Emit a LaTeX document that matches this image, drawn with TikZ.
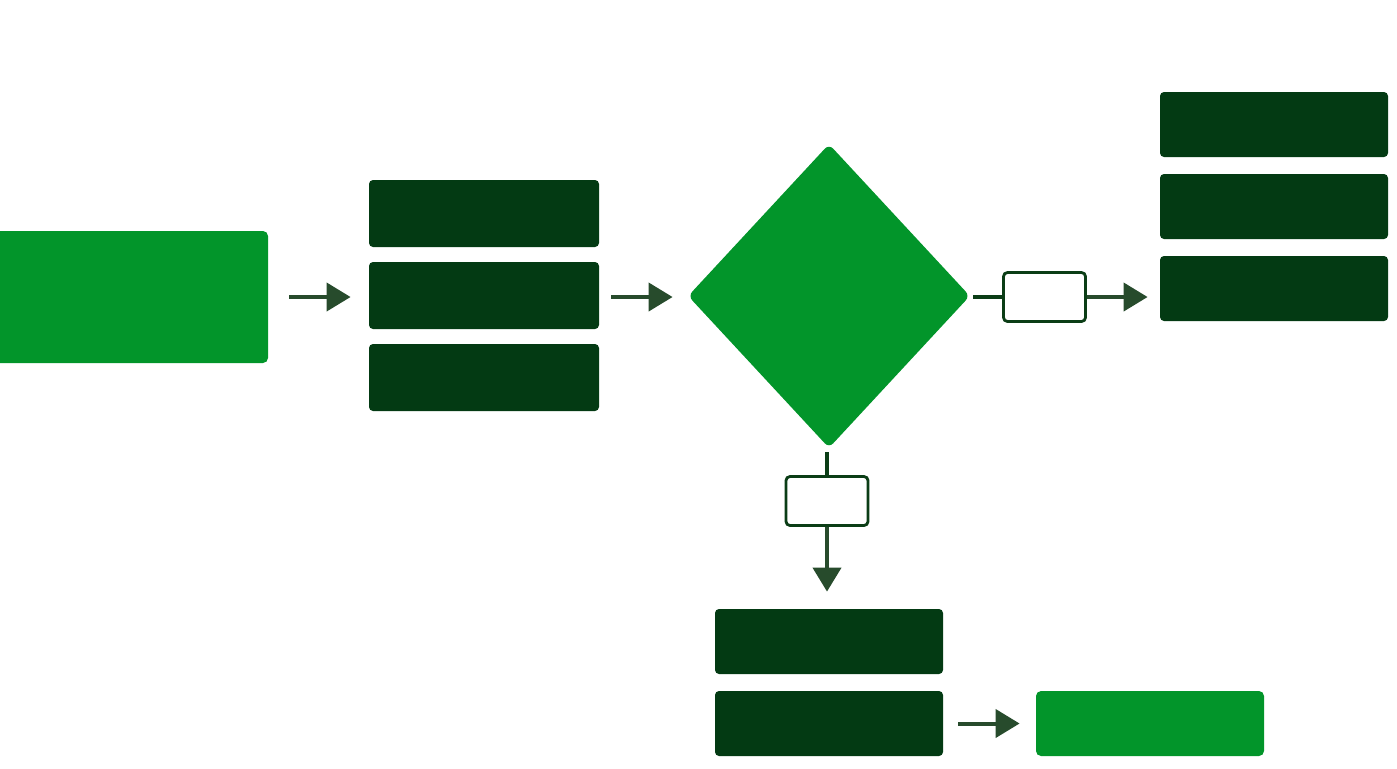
\documentclass[tikz,border=0pt]{standalone}
\usetikzlibrary{shapes.geometric,arrows.meta}
\definecolor{bright}{HTML}{02952A}
\definecolor{darkg}{HTML}{033A13}
\definecolor{arr}{HTML}{274B2C}
\definecolor{lbl}{HTML}{0B3D16}
\tikzset{
  bar/.style={rectangle, fill=darkg, rounded corners=2pt, minimum width=115pt, minimum height=33.5pt, inner sep=0pt},
  brightbox/.style={rectangle, fill=bright, rounded corners=2.5pt, inner sep=0pt},
  lblbox/.style={rectangle, draw=lbl, line width=1.4pt, fill=white, rounded corners=2pt, minimum width=41pt, minimum height=24.5pt, inner sep=0pt},
  conn/.style={draw=arr, line width=2pt, -{Triangle[length=12pt,width=14pt]}},
  plain/.style={draw=lbl, line width=1.6pt},
}
\begin{document}
\begin{tikzpicture}[x=0.5pt,y=-0.5pt]
\useasboundingbox (0,0) rectangle (1397,768);
% left bright box
\node[brightbox, minimum width=140pt, minimum height=66pt] (start) at (128,297) {};
% stack 1
\node[bar] (s1a) at (484,213.5) {};
\node[bar] (s1b) at (484,295.5) {};
\node[bar] (s1c) at (484,377.5) {};
% diamond
\node[diamond, fill=bright, rounded corners=3pt, minimum width=141pt, minimum height=152pt, inner sep=0pt] (dec) at (829,296) {};
% right stack
\node[bar, minimum width=114pt, minimum height=32.5pt] (r1) at (1274,124.5) {};
\node[bar, minimum width=114pt, minimum height=32.5pt] (r2) at (1274,206.5) {};
\node[bar, minimum width=114pt, minimum height=32.5pt] (r3) at (1274,288.5) {};
% bottom stack
\node[bar, minimum width=114pt, minimum height=32.5pt] (b1) at (829,641.5) {};
\node[bar, minimum width=114pt, minimum height=32.5pt] (b2) at (829,723.5) {};
% final bright box
\node[brightbox, minimum width=114pt, minimum height=32.5pt] (fin) at (1150,723.5) {};
% label boxes
\node[lblbox] (lr) at (1044.5,297) {};
\node[lblbox] (ld) at (827,501) {};
% connectors
\draw[conn, shorten <=10.5pt, shorten >=9pt] (start.east) -- (s1b.west |- start.east);
\draw[conn, shorten <=6pt, shorten >=7.5pt] (s1b.east |- start.east) -- (dec.west |- start.east);
\draw[plain, shorten <=1.5pt] (dec.east |- lr.west) -- (lr.west);
\draw[conn, shorten >=6pt] (lr.east) -- (r2.west |- lr.east);
\draw[plain, shorten <=2pt] (dec.south -| ld.north) -- (ld.north);
\draw[conn, shorten >=8.5pt] (ld.south) -- (ld.south |- b1.north);
\draw[conn, shorten <=7.5pt, shorten >=8pt] (b2.east) -- (fin.west);
\end{tikzpicture}
\end{document}
